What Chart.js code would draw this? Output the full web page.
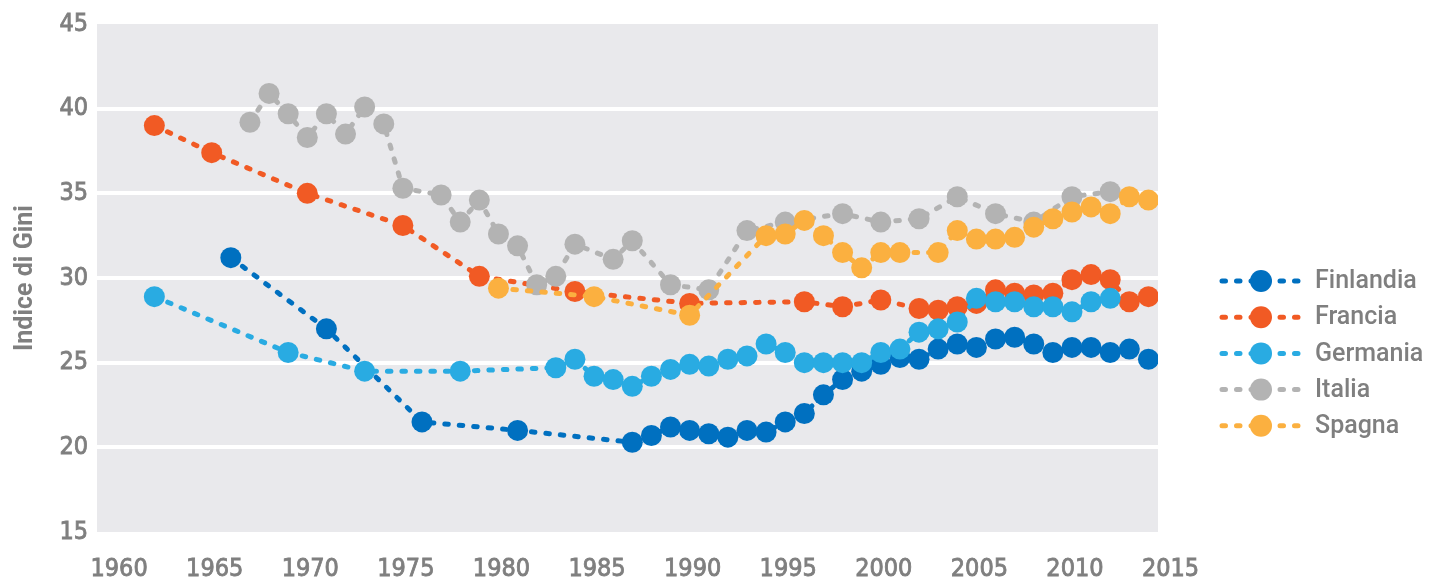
<!DOCTYPE html>
<html>
<head>
<meta charset="utf-8">
<script src="https://cdn.jsdelivr.net/npm/chart.js@4/dist/chart.umd.min.js"></script>
<style>
  html, body { margin: 0; padding: 0; background: #ffffff; }
  #wrap { width: 1429px; height: 582px; position: relative; }
</style>
</head>
<body>
<div id="wrap"><canvas id="c" width="1429" height="582"></canvas></div>
<script>
// ---- Data ----
const seriesNames = ['Finlandia', 'Francia', 'Germania', 'Italia', 'Spagna'];
const seriesColors = ['#0070C0', '#F15A24', '#29ABE2', '#B3B3B3', '#FBB040'];

const finlandiaYears = [1966, 1971, 1976, 1981, 1987, 1988, 1989, 1990, 1991, 1992, 1993, 1994, 1995, 1996, 1997, 1998, 1999, 2000, 2001, 2002, 2003, 2004, 2005, 2006, 2007, 2008, 2009, 2010, 2011, 2012, 2013, 2014];
const finlandiaValues = [31.2, 27.0, 21.5, 21.0, 20.3, 20.7, 21.2, 21.0, 20.8, 20.6, 21.0, 20.9, 21.5, 22.0, 23.1, 24.0, 24.5, 24.9, 25.3, 25.2, 25.8, 26.1, 25.9, 26.4, 26.5, 26.1, 25.6, 25.9, 25.9, 25.6, 25.8, 25.2];

const franciaYears = [1962, 1965, 1970, 1975, 1979, 1984, 1990, 1996, 1998, 2000, 2002, 2003, 2004, 2005, 2006, 2007, 2008, 2009, 2010, 2011, 2012, 2013, 2014];
const franciaValues = [39.0, 37.4, 35.0, 33.1, 30.1, 29.2, 28.5, 28.6, 28.3, 28.7, 28.2, 28.1, 28.3, 28.5, 29.3, 29.1, 29.0, 29.1, 29.9, 30.2, 29.9, 28.6, 28.9];

const germaniaYears = [1962, 1969, 1973, 1978, 1983, 1984, 1985, 1986, 1987, 1988, 1989, 1990, 1991, 1992, 1993, 1994, 1995, 1996, 1997, 1998, 1999, 2000, 2001, 2002, 2003, 2004, 2005, 2006, 2007, 2008, 2009, 2010, 2011, 2012];
const germaniaValues = [28.9, 25.6, 24.5, 24.5, 24.7, 25.2, 24.2, 24.0, 23.6, 24.2, 24.6, 24.9, 24.8, 25.2, 25.4, 26.1, 25.6, 25.0, 25.0, 25.0, 25.0, 25.6, 25.8, 26.8, 27.0, 27.4, 28.8, 28.6, 28.6, 28.3, 28.3, 28.0, 28.6, 28.8];

const italiaYears = [1967, 1968, 1969, 1970, 1971, 1972, 1973, 1974, 1975, 1977, 1978, 1979, 1980, 1981, 1982, 1983, 1984, 1986, 1987, 1989, 1991, 1993, 1995, 1998, 2000, 2002, 2004, 2006, 2008, 2010, 2012];
const italiaValues = [39.2, 40.9, 39.7, 38.3, 39.7, 38.5, 40.1, 39.1, 35.3, 34.9, 33.3, 34.6, 32.6, 31.9, 29.6, 30.1, 32.0, 31.1, 32.2, 29.6, 29.3, 32.8, 33.3, 33.8, 33.3, 33.5, 34.8, 33.8, 33.3, 34.8, 35.1];

const spagnaYears = [1980, 1985, 1990, 1994, 1995, 1996, 1997, 1998, 1999, 2000, 2001, 2003, 2004, 2005, 2006, 2007, 2008, 2009, 2010, 2011, 2012, 2013, 2014];
const spagnaValues = [29.4, 28.9, 27.8, 32.5, 32.6, 33.4, 32.5, 31.5, 30.6, 31.5, 31.5, 31.5, 32.8, 32.3, 32.3, 32.4, 33.0, 33.5, 33.9, 34.2, 33.8, 34.8, 34.6];

const xTickLabels = [1960, 1965, 1970, 1975, 1980, 1985, 1990, 1995, 2000, 2005, 2010, 2015];
const yTickLabels = [15, 20, 25, 30, 35, 40, 45];
const yAxisTitle = 'Indice di Gini';

// ---- Build datasets ----
const yearLists = [finlandiaYears, franciaYears, germaniaYears, italiaYears, spagnaYears];
const valueLists = [finlandiaValues, franciaValues, germaniaValues, italiaValues, spagnaValues];

const DASH = [3.5, 11];
const datasets = seriesNames.map((name, i) => ({
  label: name,
  data: yearLists[i].map((yr, j) => ({ x: yr, y: valueLists[i][j] })),
  borderColor: seriesColors[i],
  backgroundColor: seriesColors[i],
  pointBackgroundColor: seriesColors[i],
  pointBorderWidth: 0,
  pointRadius: 10.5,
  borderWidth: 5,
  borderDash: DASH,
  borderCapStyle: 'round',
  tension: 0,
  order: seriesNames.length - i
}));

const TEXT = '#7f7f7f';
const NARROW = '"Liberation Sans Narrow", "DejaVu Sans Condensed", "Roboto", sans-serif';

const bgPlugin = {
  id: 'plotBg',
  beforeDraw(chart) {
    const { ctx, chartArea: a } = chart;
    ctx.save();
    ctx.fillStyle = '#E9E9EC';
    ctx.fillRect(a.left, a.top, a.right - a.left, a.bottom - a.top);
    ctx.restore();
  }
};

const legendPlugin = {
  id: 'customLegend',
  afterDraw(chart) {
    const { ctx } = chart;
    const x0 = 1222, x1 = 1301, mx = 1261, tx = 1315;
    const y0 = 281, dy = 36.2;
    ctx.save();
    chart.data.datasets.forEach((ds, i) => {
      const y = y0 + i * dy;
      ctx.strokeStyle = ds.borderColor;
      ctx.lineWidth = 5;
      ctx.lineCap = 'round';
      ctx.setLineDash(DASH);
      ctx.beginPath();
      ctx.moveTo(x0, y);
      ctx.lineTo(x1, y);
      ctx.stroke();
      ctx.setLineDash([]);
      ctx.fillStyle = ds.backgroundColor;
      ctx.beginPath();
      ctx.arc(mx, y, 11, 0, Math.PI * 2);
      ctx.fill();
      ctx.fillStyle = TEXT;
      ctx.font = '500 25px Roboto, "Liberation Sans", sans-serif';
      ctx.textBaseline = 'middle';
      ctx.textAlign = 'left';
      ctx.fillText(ds.label, tx, y + 1);
    });
    ctx.restore();
  }
};

new Chart(document.getElementById('c'), {
  type: 'line',
  data: { datasets },
  plugins: [bgPlugin, legendPlugin],
  options: {
    responsive: false,
    animation: false,
    events: [],
    layout: { padding: { left: 0, top: 20, right: 271, bottom: 0 } },
    plugins: { legend: { display: false }, tooltip: { enabled: false } },
    scales: {
      x: {
        type: 'linear',
        min: 1959,
        max: 2014.5,
        grid: { display: false, drawTicks: false },
        border: { display: false },
        afterBuildTicks(scale) { scale.ticks = xTickLabels.map(v => ({ value: v })); },
        afterFit(scale) { scale.height = 50; },
        ticks: {
          color: TEXT,
          font: { family: NARROW, size: 25 },
          textStrokeColor: TEXT,
          textStrokeWidth: 0.8,
          padding: 22,
          labelOffset: 3,
          maxRotation: 0,
          autoSkip: false,
          callback: v => String(v)
        }
      },
      y: {
        min: 15,
        max: 45,
        afterBuildTicks(scale) { scale.ticks = yTickLabels.map(v => ({ value: v })); },
        afterFit(scale) { scale.width = 97; },
        grid: {
          drawTicks: false,
          lineWidth: 4,
          color: c => (c.tick && (c.tick.value === 15 || c.tick.value === 45)) ? 'rgba(0,0,0,0)' : '#ffffff'
        },
        border: { display: false },
        ticks: {
          color: TEXT,
          font: { family: NARROW, size: 25 },
          textStrokeColor: TEXT,
          textStrokeWidth: 0.8,
          padding: 9,
          callback: v => String(v)
        },
        title: {
          display: true,
          text: yAxisTitle,
          color: TEXT,
          font: { family: 'Roboto, "Liberation Sans", sans-serif', size: 25, weight: 'bold' },
          padding: { top: 11, bottom: 0 }
        }
      }
    }
  }
});
</script>
</body>
</html>
